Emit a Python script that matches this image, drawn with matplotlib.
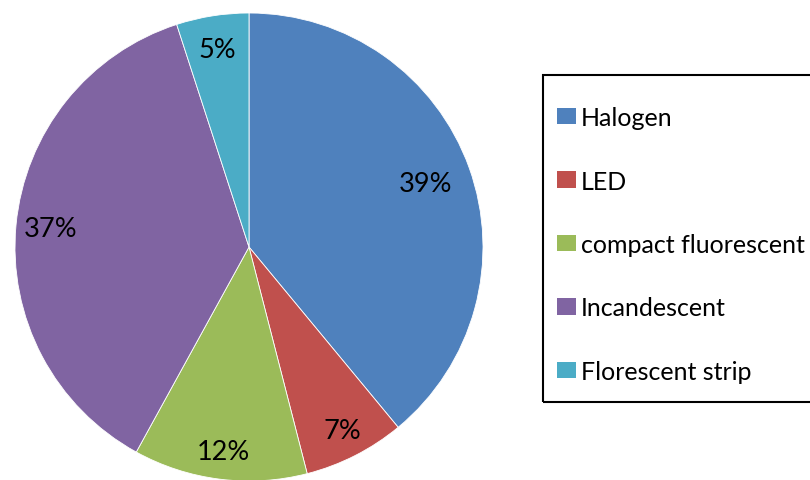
import numpy as np
from matplotlib import pyplot as plt
from matplotlib.patches import Patch, Rectangle

# Share of lamp types
labels = ['Halogen', 'LED', 'compact fluorescent', 'Incandescent', 'Florescent strip']
shares = [39, 7, 12, 37, 5]
colors = ['#4F81BD', '#C0504D', '#9BBB59', '#8064A2', '#4BACC6']

# radial distance of each percentage label (fraction of radius)
label_dist = [0.80, 0.88, 0.88, 0.85, 0.855]

plt.rcParams['font.family'] = ['Lato', 'DejaVu Sans']

W, H = 810, 481
fig = plt.figure(figsize=(W / 100, H / 100), dpi=100)

# pie centred at (249, 248) px with radius 234 px
cx, cy, r = 249, 248, 234
ax = fig.add_axes([(cx - r) / W, (H - cy - r) / H, 2 * r / W, 2 * r / H])
wedges, texts, autotexts = ax.pie(
    shares, colors=colors, startangle=90, counterclock=False,
    autopct='%d%%', pctdistance=0.83,
    wedgeprops=dict(edgecolor='white', linewidth=0.6),
    textprops=dict(fontsize=19.5, color='black'))

for w, t, d in zip(wedges, autotexts, label_dist):
    mid = np.deg2rad((w.theta1 + w.theta2) / 2)
    t.set_position((d * np.cos(mid), d * np.sin(mid)))

ax.set_xlim(-1, 1)
ax.set_ylim(-1, 1)
ax.set_aspect('equal')

# legend box
fig.patches.append(Rectangle((543 / W, 1 - 403 / H), 300 / W, 327 / H,
                             transform=fig.transFigure, fill=False,
                             edgecolor='black', linewidth=1.5))

handles = [Patch(facecolor=c, edgecolor='none') for c in colors]
fig.legend(handles, labels, loc='upper left',
           bbox_to_anchor=(557 / W, 1 - 107 / H),
           frameon=False, fontsize=18, borderpad=0, borderaxespad=0,
           labelspacing=1.62, handlelength=0.76, handleheight=0.64,
           handletextpad=0.2)

fig.savefig('out.png', dpi=100)
